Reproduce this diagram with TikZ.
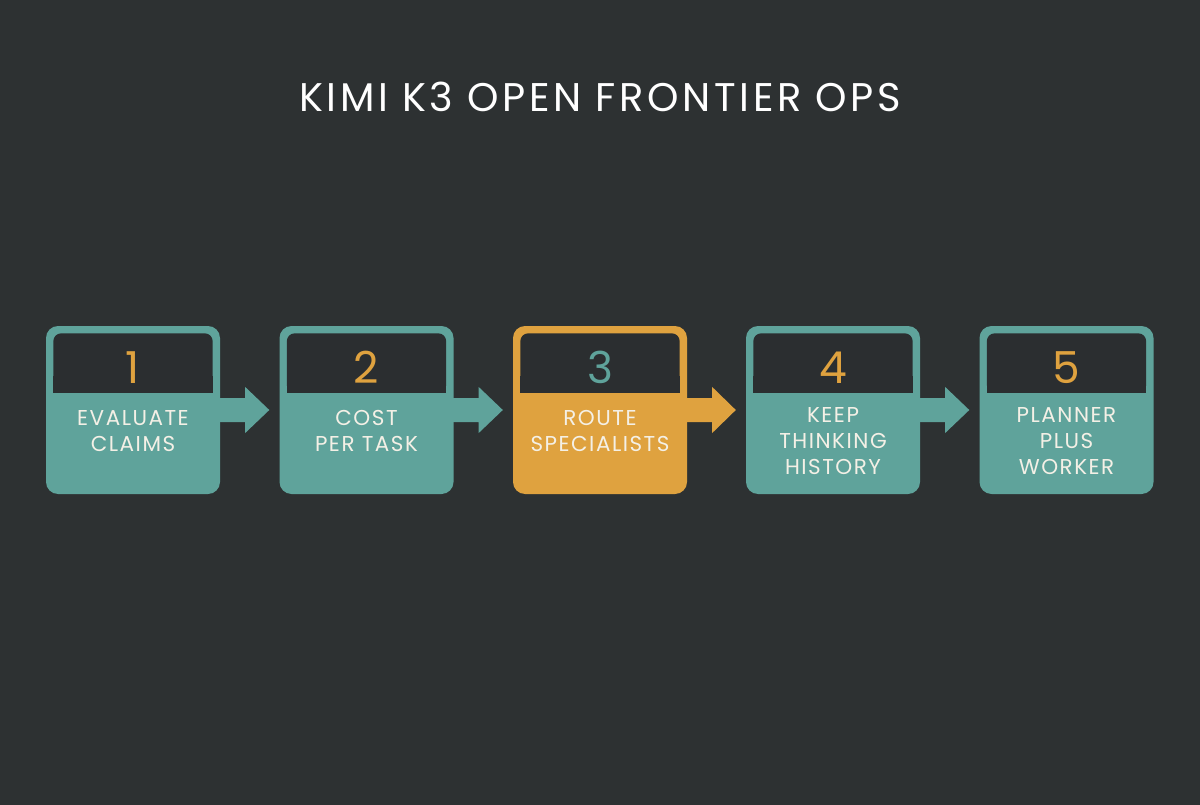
\documentclass[tikz,border=0pt]{standalone}
\usepackage{fontspec}
\setmainfont{Poppins}
\newfontfamily\widefont[LetterSpace=9]{Poppins}
\newfontfamily\labelfont[LetterSpace=7]{Poppins}
\usetikzlibrary{calc}
\definecolor{bgc}{HTML}{2D3132}
\definecolor{panelc}{HTML}{2B2E30}
\definecolor{tealc}{HTML}{5FA39B}
\definecolor{goldc}{HTML}{DFA23F}
\definecolor{textc}{HTML}{F4F0E6}
\tikzset{
  stepbox/.style={rectangle, rounded corners=12pt, minimum width=174pt, minimum height=168pt, inner sep=0pt},
  numtext/.style={font=\fontsize{44}{44}\selectfont},
  labeltext/.style={text=textc, align=center, font=\labelfont\fontsize{21.5}{26}\selectfont, inner sep=0pt},
}
% dark header panel inside a step box
\newcommand{\headpanel}[1]{%
  \fill[panelc, rounded corners=8pt] ($(#1.north west)+(7.5,7.5)$) rectangle ($(#1.north east)+(-7.5,67)$);
  \fill[panelc] ($(#1.north west)+(7.5,50)$) rectangle ($(#1.north east)+(-7.5,67)$);
}
% block arrow from one step box to the next
\newcommand{\steparrow}[3]{%
  \fill[#3] ($(#1.east)+(-2,-12)$) -- ($(#1.east)+(25,-12)$) -- ($(#1.east)+(25,-23)$)
    -- ($(#2.west)+(-10,0)$) -- ($(#1.east)+(25,23)$) -- ($(#1.east)+(25,12)$)
    -- ($(#1.east)+(-2,12)$) -- cycle;
}
\begin{document}
\begin{tikzpicture}[x=1pt,y=-1pt]
\useasboundingbox (0,0) rectangle (1200,805);
\fill[bgc] (0,0) rectangle (1200,805);

\node[text=white, font=\widefont\fontsize{40}{40}\selectfont] (title) at (600,97) {KIMI K3 OPEN FRONTIER OPS};

\node[stepbox, fill=tealc] (b1) at (133,410) {};
\node[stepbox, fill=tealc] (b2) at (366.5,410) {};
\node[stepbox, fill=goldc] (b3) at (600,410) {};
\node[stepbox, fill=tealc] (b4) at (833,410) {};
\node[stepbox, fill=tealc] (b5) at (1066.5,410) {};

\headpanel{b1}
\headpanel{b2}
\headpanel{b3}
\headpanel{b4}
\headpanel{b5}

\steparrow{b1}{b2}{tealc}
\steparrow{b2}{b3}{tealc}
\steparrow{b3}{b4}{goldc}
\steparrow{b4}{b5}{tealc}

\node[numtext, text=goldc] (n1) at ($(b1.north)+(0,42)$) {1};
\node[numtext, text=goldc] (n2) at ($(b2.north)+(0,42)$) {2};
\node[numtext, text=tealc] (n3) at ($(b3.north)+(0,42)$) {3};
\node[numtext, text=goldc] (n4) at ($(b4.north)+(0,42)$) {4};
\node[numtext, text=goldc] (n5) at ($(b5.north)+(0,42)$) {5};

\node[labeltext] (l1) at (133,431) {EVALUATE\\CLAIMS};
\node[labeltext] (l2) at (366.5,431) {COST\\PER TASK};
\node[labeltext] (l3) at (600,431) {ROUTE\\SPECIALISTS};
\node[labeltext] (l4) at (833,441) {KEEP\\THINKING\\HISTORY};
\node[labeltext] (l5) at (1066.5,441) {PLANNER\\PLUS\\WORKER};
\end{tikzpicture}
\end{document}
